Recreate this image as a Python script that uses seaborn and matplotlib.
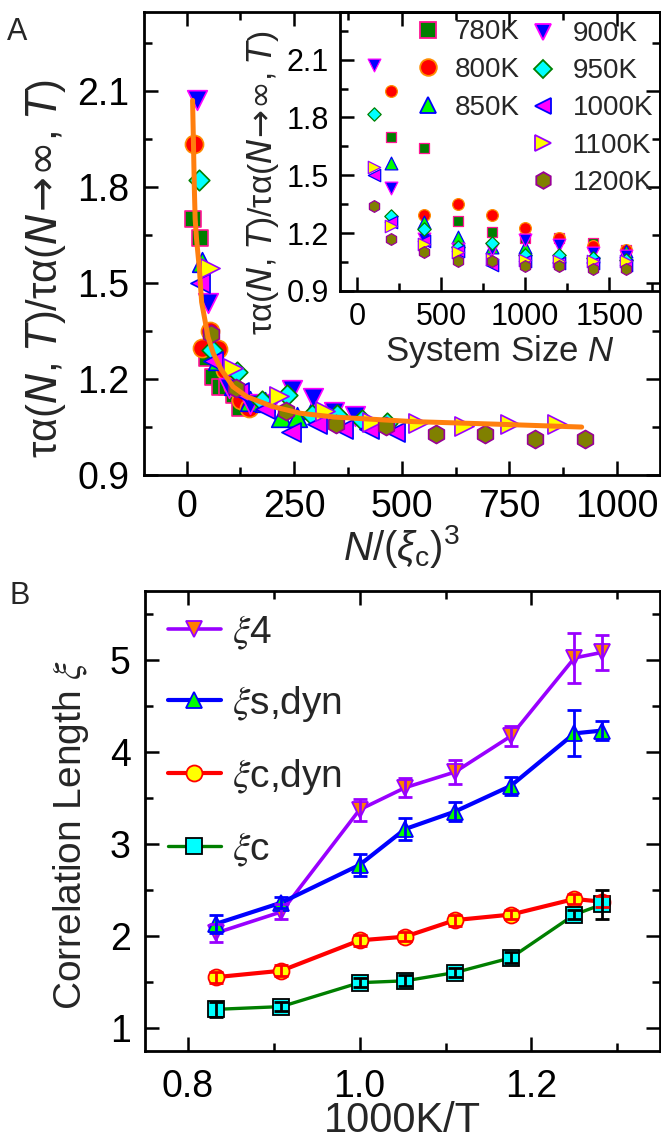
import numpy as np
import pandas as pd
import seaborn as sns
import matplotlib.pyplot as plt
from matplotlib.lines import Line2D
from matplotlib.ticker import MultipleLocator
from matplotlib.font_manager import FontProperties

sns.set_theme(style="ticks")
plt.rcParams["font.family"] = ["Liberation Sans", "DejaVu Sans"]
plt.rcParams["mathtext.fontset"] = "custom"
plt.rcParams["mathtext.rm"] = "Liberation Sans"
plt.rcParams["mathtext.it"] = "Liberation Sans:italic"
plt.rcParams["mathtext.bf"] = "Liberation Sans:bold"

# ---- panel B: correlation lengths vs 1000K/T ----
temps = [1200, 1100, 1000, 950, 900, 850, 800, 780]
inv_t = [0.833, 0.909, 1.0, 1.053, 1.111, 1.176, 1.25, 1.282]
xi_4 = [2.03, 2.26, 3.37, 3.61, 3.78, 4.17, 5.02, 5.08]
xi_4_err = [0.10, 0.08, 0.12, 0.10, 0.13, 0.11, 0.27, 0.19]
xi_s_dyn = [2.13, 2.36, 2.77, 3.16, 3.35, 3.63, 4.20, 4.23]
xi_s_dyn_err = [0.10, 0.06, 0.12, 0.12, 0.10, 0.10, 0.25, 0.10]
xi_c_dyn = [1.55, 1.62, 1.95, 1.99, 2.17, 2.23, 2.40, 2.37]
xi_c_dyn_err = [0.06, 0.06, 0.06, 0.05, 0.06, 0.05, 0.05, 0.06]
xi_c = [1.20, 1.23, 1.49, 1.51, 1.60, 1.76, 2.23, 2.34]
xi_c_err = [0.08, 0.05, 0.05, 0.06, 0.05, 0.06, 0.05, 0.16]

# ---- panel A: tau ratio vs system size ----
sizes_n = [100, 200, 400, 600, 800, 1000, 1200, 1400, 1600]
ratio_780 = [np.nan, 1.70, 1.64, 1.265, 1.204, 1.175, 1.175, 1.15, 1.11]
ratio_800 = [np.nan, 1.935, 1.296, 1.35, 1.293, 1.228, 1.175, 1.135, 1.11]
ratio_850 = [np.nan, 1.566, 1.26, 1.18, 1.13, 1.128, 1.08, 1.08, 1.105]
ratio_900 = [2.07, 1.436, 1.17, 1.12, 1.12, 1.166, 1.14, 1.096, 1.082]
ratio_950 = [1.82, 1.29, 1.22, 1.13, 1.148, 1.088, 1.088, 1.07, 1.061]
ratio_1000 = [1.50, 1.256, 1.16, 1.105, 1.035, 1.058, 1.044, 1.044, 1.035]
ratio_1100 = [1.545, 1.235, 1.145, 1.10, 1.065, 1.061, 1.053, 1.058, 1.058]
ratio_1200 = [1.34, 1.17, 1.10, 1.058, 1.053, 1.027, 1.027, 1.013, 1.013]

# orange master curve
fit_x = [14, 16, 18, 20, 23, 30, 35, 50, 62, 80, 108, 140, 200, 265, 345, 527, 720, 918]
fit_y = [2.07, 1.94, 1.80, 1.70, 1.64, 1.54, 1.44, 1.33, 1.28, 1.23, 1.175, 1.144, 1.113, 1.092, 1.08, 1.066, 1.058, 1.049]

ratios = {780: ratio_780, 800: ratio_800, 850: ratio_850, 900: ratio_900,
          950: ratio_950, 1000: ratio_1000, 1100: ratio_1100, 1200: ratio_1200}
xi_c_of_t = dict(zip(temps, xi_c))

rows = []
for t, vals in ratios.items():
    for n, r in zip(sizes_n, vals):
        if not np.isnan(r):
            rows.append({"T": t, "N": n, "ratio": r, "scaled": n / xi_c_of_t[t] ** 3})
df = pd.DataFrame(rows)

# marker, face, edge, scatter size
styles = {
    780: ("s", "#007f00", "#ff1493", 120),
    800: ("o", "#ff0000", "#ff8c00", 170),
    850: ("^", "#00ff00", "#0000ff", 200),
    900: ("v", "#0000ff", "#ff00ff", 200),
    950: ("D", "#00ffff", "#008000", 110),
    1000: ("<", "#ff00ff", "#0000ff", 190),
    1100: (">", "#ffff00", "#9900ff", 190),
    1200: ("h", "#808000", "#990099", 170),
}

fig = plt.figure(figsize=(6.61, 11.42), dpi=100)
ax_a = fig.add_axes([0.2171, 0.5843, 0.7814, 0.4049])
ax_in = fig.add_axes([0.5144, 0.7452, 0.4841, 0.2440])
ax_b = fig.add_axes([0.2189, 0.0799, 0.7802, 0.4028])

for ax in (ax_a, ax_in, ax_b):
    for sp in ax.spines.values():
        sp.set_linewidth(2)
        sp.set_color("black")
    ax.tick_params(which="both", direction="in", width=1.8, colors="black")
    ax.tick_params(which="major", length=10)
    ax.tick_params(which="minor", length=6)

ylab_a = r"τα($N$, $T$)/τα($N\!\rightarrow\!\infty$, $T$)"

# main panel A
for t in [780, 800, 850, 900, 950, 1000, 1100, 1200]:
    m, fc, ec, s = styles[t]
    sub = df[df["T"] == t]
    sns.scatterplot(data=sub, x="scaled", y="ratio", marker=m, color=fc,
                    edgecolor=ec, linewidth=1.2, s=s, ax=ax_a, zorder=3)
sns.lineplot(x=fit_x, y=fit_y, color="#ff7f0e", lw=3.6, ax=ax_a, zorder=5)

ax_a.set_xlim(-100, 1100)
ax_a.set_ylim(0.9, 2.345)
ax_a.xaxis.set_major_locator(MultipleLocator(250))
ax_a.xaxis.set_minor_locator(MultipleLocator(125))
ax_a.yaxis.set_major_locator(MultipleLocator(0.3))
ax_a.yaxis.set_minor_locator(MultipleLocator(0.15))
ax_a.yaxis.set_major_formatter(plt.FormatStrFormatter("%.1f"))
ax_a.tick_params(which="both", top=True, right=True)
ax_a.tick_params(axis="both", labelsize=27, pad=10)
ax_a.set_xlabel(r"$N/(\xi_{\mathrm{c}})^3$", fontsize=29)
ax_a.set_ylabel(ylab_a, fontsize=30, math_fontfamily="dejavusans")
ax_a.xaxis.set_label_coords(0.5, -0.105)
ax_a.yaxis.set_label_coords(-0.146, 0.447)

# inset
ax_in.patch.set_alpha(0)
for t in [780, 800, 850, 900, 950, 1000, 1100, 1200]:
    m, fc, ec, s = styles[t]
    sub = df[df["T"] == t]
    sns.scatterplot(data=sub, x="N", y="ratio", marker=m, color=fc,
                    edgecolor=ec, linewidth=0.9, s=s * 0.42, ax=ax_in, zorder=3)
ax_in.set_xlim(-100, 1800)
ax_in.set_ylim(0.9, 2.345)
ax_in.xaxis.set_major_locator(MultipleLocator(500))
ax_in.xaxis.set_minor_locator(MultipleLocator(250))
ax_in.yaxis.set_major_locator(MultipleLocator(0.3))
ax_in.yaxis.set_minor_locator(MultipleLocator(0.15))
ax_in.yaxis.set_major_formatter(plt.FormatStrFormatter("%.1f"))
ax_in.tick_params(axis="both", labelsize=22, pad=8)
ax_in.set_xlabel("System Size $N$", fontsize=25)
ax_in.set_ylabel(ylab_a, fontsize=24, math_fontfamily="dejavusans")
ax_in.xaxis.set_label_coords(0.5, -0.15)
ax_in.yaxis.set_label_coords(-0.184, 0.39)


def handle(t):
    m, fc, ec, s = styles[t]
    ms = 9 if m == "D" else 12
    return Line2D([], [], ls="none", marker=m, markerfacecolor=fc,
                  markeredgecolor=ec, markeredgewidth=1.3, markersize=ms)


leg_left = [780, 800, 850]
leg_right = [900, 950, 1000, 1100, 1200]
leg1 = ax_in.legend([handle(t) for t in leg_left], [f"{t}K" for t in leg_left],
                    loc="upper left", bbox_to_anchor=(0.233, 0.975), frameon=False,
                    fontsize=20, handlelength=1.0, handletextpad=0.45,
                    labelspacing=0.42, borderpad=0, borderaxespad=0)
ax_in.add_artist(leg1)
ax_in.legend([handle(t) for t in leg_right], [f"{t}K" for t in leg_right],
             loc="upper left", bbox_to_anchor=(0.592, 0.968), frameon=False,
             fontsize=20, handlelength=1.0, handletextpad=0.55,
             labelspacing=0.4, borderpad=0, borderaxespad=0)

# panel B
series = [
    (r"$\xi$4", xi_4, xi_4_err, "v", "#9900ff", "#ff7f00", "#9900ff", "#9900ff", 2.6),
    (r"$\xi$s,dyn", xi_s_dyn, xi_s_dyn_err, "^", "#0000ff", "#00ff00", "#0000ff", "#0000ff", 3.0),
    (r"$\xi$c,dyn", xi_c_dyn, xi_c_dyn_err, "o", "#ff0000", "#ffff00", "#ff0000", "#ff0000", 3.0),
    (r"$\xi$c", xi_c, xi_c_err, "s", "#007f00", "#00ffff", "#000000", "#000000", 2.4),
]
handles_b = []
for label, y, yerr, m, lc, fc, ec, errc, lw in series:
    sns.lineplot(x=inv_t, y=y, marker=m, color=lc, lw=lw, markersize=11.5,
                 markerfacecolor=fc, markeredgecolor=ec, markeredgewidth=1.3,
                 ax=ax_b, zorder=3)
    ax_b.errorbar(inv_t, y, yerr=yerr, fmt="none", ecolor=errc, elinewidth=2,
                  capsize=5, capthick=2, zorder=4)
    handles_b.append(Line2D([], [], color=lc, lw=lw, marker=m, markersize=11.5,
                            markerfacecolor=fc, markeredgecolor=ec, markeredgewidth=1.3))

ax_b.set_xlim(0.75, 1.35)
ax_b.set_ylim(0.75, 5.75)
ax_b.xaxis.set_major_locator(MultipleLocator(0.2))
ax_b.xaxis.set_minor_locator(MultipleLocator(0.1))
ax_b.yaxis.set_major_locator(MultipleLocator(1))
ax_b.yaxis.set_minor_locator(MultipleLocator(0.5))
ax_b.xaxis.set_major_formatter(plt.FormatStrFormatter("%.1f"))
ax_b.tick_params(which="both", top=True, right=True)
ax_b.tick_params(axis="x", labelsize=27, pad=13)
ax_b.tick_params(axis="y", labelsize=27, pad=10)
ax_b.set_xlabel("1000K/T", fontsize=30)
ax_b.set_ylabel(r"Correlation Length $\xi$", fontsize=28, math_fontfamily="stix")
ax_b.xaxis.set_label_coords(0.5, -0.11)
ax_b.yaxis.set_label_coords(-0.104, 0.47)
ax_b.legend(handles_b, [s[0] for s in series], loc="upper left",
            bbox_to_anchor=(0.045, 0.952), frameon=False,
            prop=FontProperties(family=["Liberation Sans", "DejaVu Sans"], size=28,
                                math_fontfamily="stix"),
            handlelength=1.36, handletextpad=0.3, labelspacing=0.85,
            borderpad=0, borderaxespad=0)

fig.text(0.026, 0.972, "A", fontsize=22, ha="center", va="center")
fig.text(0.030, 0.478, "B", fontsize=22, ha="center", va="center")

fig.savefig("out.png", dpi=100)
